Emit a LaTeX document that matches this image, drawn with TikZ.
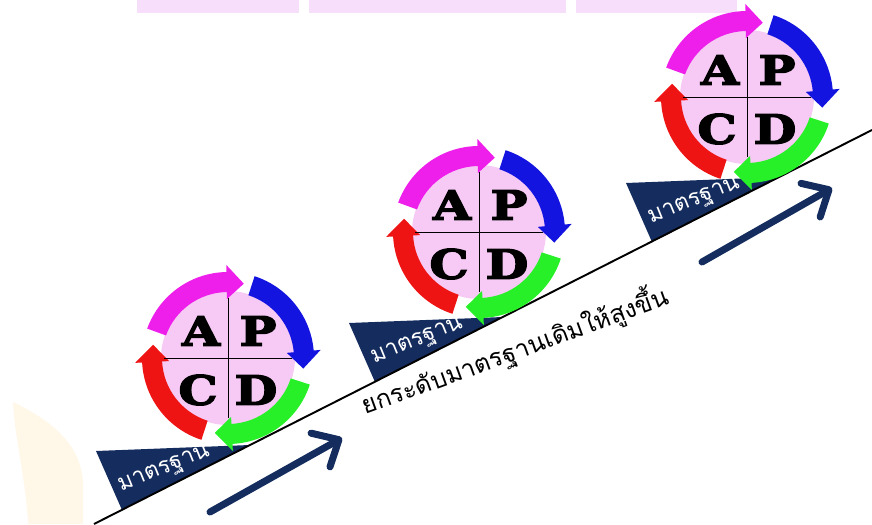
\documentclass[tikz,border=0pt]{standalone}
\usepackage{fontspec}
\newfontfamily\thaifont[Script=Thai]{Loma}
\newfontfamily\pdcafont[FakeBold=3.5,FakeStretch=1.22]{DejaVu Serif Bold}
\usetikzlibrary{arrows.meta}
\definecolor{navyblue}{RGB}{20,44,94}
\definecolor{wheelpink}{RGB}{246,202,244}
\definecolor{titlepink}{RGB}{247,222,250}
\definecolor{flamecream}{RGB}{255,247,232}
\definecolor{plancol}{RGB}{20,20,225}
\definecolor{docol}{RGB}{40,240,40}
\definecolor{checkcol}{RGB}{238,20,20}
\definecolor{actcol}{RGB}{238,30,235}
\begin{document}
\begin{tikzpicture}%
	[x=0.02cm, y=-0.02cm,
	wheel/.style={fill=wheelpink},
	quadrant/.style={color=black, line width=0.5pt},
	letter/.style={inner sep=0pt, font=\pdcafont\fontsize{23}{23}\selectfont},
	wedge/.style={fill=navyblue},
	wedgetext/.style={inner sep=0pt, text=white, rotate=22, font=\thaifont\fontsize{13}{13}\selectfont},
	slope/.style={color=black, line width=1.1pt},
	rise/.style={color=navyblue, line width=4pt, line cap=round,
		-{Straight Barb[length=12pt, width=22pt, line cap=round, line join=round]}},
	risetext/.style={inner sep=0pt, rotate=20, font=\thaifont\fontsize{14.2}{14.2}\selectfont}]
%
\useasboundingbox (0,0) rectangle (872,524);
%%
%% title remains and background flame
%%
\fill[titlepink] (137,0) rectangle (299,13);
\fill[titlepink] (309,0) rectangle (566,13);
\fill[titlepink] (576,0) rectangle (737,13);
\fill[flamecream] (13,402) .. controls (50,420) and (85,445) .. (83,490) -- (83,524) -- (28,524) .. controls (26,480) and (15,440) .. (13,402) -- cycle;
%%
%% the standards under the wheels
%%
\foreach \i/\bx/\by in {1/250/445, 2/503/317, 3/780/177}
{
	\fill[wedge] (\bx-154,\by+6) -- (\bx,\by) -- (\bx-128,\by+65) -- cycle;
	\node[wedgetext] (std\i) at (\bx-85,\by+25) {มาตรฐาน};
}
%%
\coordinate (slopestart) at (94,524);
\coordinate (slopeend) at (872,130);
\draw[slope] (slopestart) -- (slopeend);
%%
%% Drawing the PDCA wheels
%%
\foreach \i/\cx/\cy in {1/228/358, 2/479/232, 3/747/97}
{
	\begin{scope}[shift={(\cx,\cy)}, yscale=-1]
		\fill[wheel] (0,0) circle[radius=67];
		\foreach \col/\s/\e in {actcol/160/78, plancol/72/-8, docol/-18/-100, checkcol/-108/-190}
			\fill[\col] (\s:86) arc[start angle=\s, end angle=\e+13, radius=86] -- ({\e+13}:93) -- (\e:76) -- ({\e+13}:59) -- ({\e+13}:66) arc[start angle=\e+13, end angle=\s, radius=66] -- cycle;
		\draw[quadrant] (-64,0) -- (64,0);
		\draw[quadrant] (0,60) -- (0,-60);
		\node[letter] (a\i) at (-27,27) {A};
		\node[letter] (p\i) at (30,27) {P};
		\node[letter] (c\i) at (-30,-32) {C};
		\node[letter] (d\i) at (28,-32) {D};
	\end{scope}
}
%%
%% rising arrows
%%
\coordinate (riseonetail) at (210,512);
\coordinate (riseonetip) at (342,438);
\coordinate (risetwotail) at (702,262);
\coordinate (risetwotip) at (832,188);
\draw[rise] (riseonetail) -- (riseonetip);
\draw[rise] (risetwotail) -- (risetwotip);
%%
\node[risetext] (raise) at (515,350) {ยกระดับมาตรฐานเดิมให้สูงขึ้น};

\end{tikzpicture}
\end{document}
